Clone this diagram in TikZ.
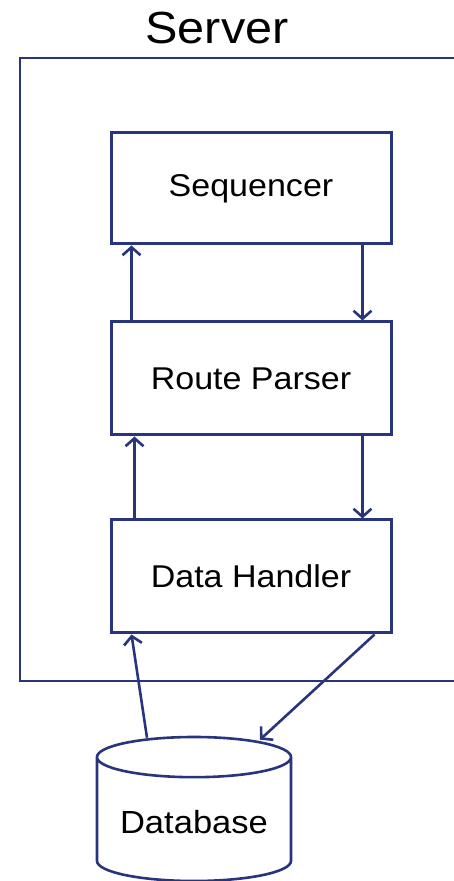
\documentclass[tikz,border=0pt]{standalone}
\usepackage{fontspec}
\setmainfont{Liberation Sans}[FakeStretch=1.08]
\usepackage{tikz}
\usetikzlibrary{arrows.meta,shapes.geometric}

\definecolor{navy}{RGB}{40,52,124}

\begin{document}
\begin{tikzpicture}[x=1pt,y=1pt,
    blocco/.style={draw=navy, line width=3pt, minimum width=280pt,
      minimum height=111pt, font=\fontsize{31.5}{36}\selectfont},
    freccia/.style={navy, line width=2.6pt,
      -{Straight Barb[length=8pt,width=18pt,line width=2.6pt]}}]
        \useasboundingbox (0,0) rectangle (454,881);

        % Server
        \node[font=\fontsize{45}{50}\selectfont] (srv) at (217,853) {Server};
        \draw[navy, line width=2.8pt] (458,823) -- (20,823) -- (20,200) -- (458,200);

        % Blocchi
        \node[blocco] (seq) at (251,692.5) {Sequencer};
        \node[blocco, minimum height=113pt] (rp) at (251,502.5) {Route Parser};
        \node[blocco, minimum height=113pt] (dh) at (251,304.5) {Data Handler};

        % Frecce tra i blocchi
        \draw[freccia] ([xshift=22pt]rp.north west) -- ([xshift=22pt]seq.south west);
        \draw[freccia] ([xshift=-30pt]seq.south east) -- ([xshift=-30pt]rp.north east);
        \draw[freccia] ([xshift=25pt]dh.north west) -- ([xshift=25pt]rp.south west);
        \draw[freccia] ([xshift=-30pt]rp.south east) -- ([xshift=-30pt]dh.north east);

        % Database
        \node[cylinder, shape border rotate=90, draw=navy, line width=2.6pt,
          minimum width=194pt, minimum height=144pt, aspect=0.26,
          anchor=shape center,
          font=\fontsize{32}{36}\selectfont] (db) at (194,72) {\raisebox{-6pt}{Database}};
        \draw[freccia] ([xshift=-47pt,yshift=-2pt]db.north) -- ([xshift=22pt]dh.south west);
        \draw[freccia] ([xshift=-18pt]dh.south east) -- ([xshift=66pt,yshift=-4pt]db.north);
      \end{tikzpicture}
\end{document}
